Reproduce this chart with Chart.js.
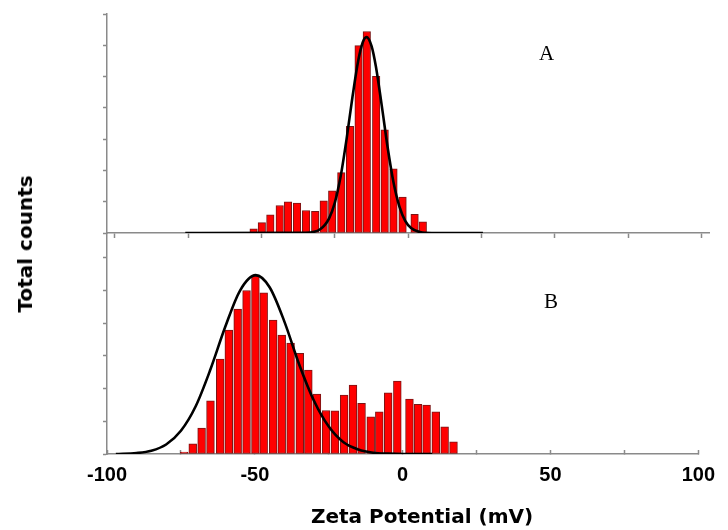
<!DOCTYPE html>
<html>
<head>
<meta charset="utf-8">
<script src="https://cdn.jsdelivr.net/npm/chart.js@4"></script>
<style>
  body{margin:0;background:#fff;}
  #wrap{position:relative;width:728px;height:530px;overflow:hidden;}
  canvas{position:absolute;left:0;}
  .lbl{position:absolute;font-family:"DejaVu Sans",sans-serif;font-weight:bold;color:#000;white-space:nowrap;}
  .pan{position:absolute;font-family:"Liberation Serif",serif;font-size:21px;color:#000;}
</style>
</head>
<body>
<div id="wrap">
  <canvas id="chartA" width="728" height="250" style="top:0"></canvas>
  <canvas id="chartB" width="728" height="310" style="top:220px"></canvas>
  <div class="pan" style="left:539px;top:41px">A</div>
  <div class="pan" style="left:544px;top:289px">B</div>
  <div class="lbl" style="font-size:20px;left:25px;top:244px;transform:translate(-50%,-50%) rotate(-90deg)">Total counts</div>
  <div class="lbl" style="font-size:20px;left:422px;top:516px;transform:translate(-50%,-50%)">Zeta Potential (mV)</div>
</div>
<script>
// panel A : histogram + fit
var zetaA=[-52.7,-49.9,-47.0,-43.8,-41.0,-37.9,-34.8,-31.7,-28.8,-25.9,-22.8,-19.8,-16.9,-14.1,-10.9,-8.0,-5.0,-1.9,2.2,5.0]
var countsA=[1.3,3.3,5.8,8.8,10.0,9.6,7.2,6.9,10.3,13.5,19.3,34.1,59.9,64.4,50.1,33.0,20.5,11.5,6.0,3.6]
var fitXA=[-76,-35,-30,-27,-25,-23,-21,-19,-17,-15.5,-14.2,-12.5,-11,-9,-7,-5,-3,-1,1,4,8,25.5]
var fitYA=[0,0.1,1.2,4.6,9.7,18.2,30.0,43.4,55.2,60.9,62.6,59.8,53.2,40.7,27.4,16.2,8.5,3.9,1.6,0.3,0,0]

// panel B
var zetaB=[-73.9,-71.0,-68.0,-65.0,-61.7,-58.8,-55.8,-52.8,-49.8,-47.0,-43.8,-40.9,-37.9,-34.8,-31.9,-29.0,-25.9,-22.9,-19.8,-16.8,-13.9,-10.8,-7.9,-4.9,-1.8,2.3,5.2,8.1,11.2,14.2,17.2]
var countsB=[0.6,3.1,7.9,16.3,29.0,37.9,44.3,50.0,54.4,49.3,41.0,36.4,33.9,30.8,25.7,18.3,13.3,13.2,18.0,21.1,15.5,11.4,12.9,18.7,22.3,16.8,15.2,15.0,12.9,8.3,3.7]
var fitXB=[-97,-90,-85,-80,-75,-70,-65,-60,-55,-49.7,-45,-40,-35,-30,-25,-20,-15,-10,-5,0,10]
var fitYB=[0,0.3,1.0,2.9,7.1,14.6,25.9,38.9,50.0,54.7,51.0,40.5,27.4,16.3,8.4,3.6,1.4,0.4,0.1,0,0]

var xTicks=[-100,-75,-50,-25,0,25,50,75,100]
var xLabels=[-100,-50,0,50,100]

function pts(xs,ys){
  return xs.map(function(x,i){return {x:x,y:ys[i]}})
}
function setTicks(list){
  return function(s){ s.ticks=list.map(function(v){return {value:v}}) }
}
var axisGray='#8a8a8a'

function makeChart(id,opt){
  return new Chart(document.getElementById(id),{
    type:'bar',
    data:{datasets:[
      {
        type:'line',
        data:pts(opt.fx,opt.fy),
        borderColor:'#000',
        borderWidth:2.6,
        pointRadius:0,
        cubicInterpolationMode:'monotone',
        order:0
      },
      {
        data:pts(opt.bx,opt.by),
        backgroundColor:'#ff0000',
        borderColor:'#7a1515',
        borderWidth:1,
        borderSkipped:false,
        barThickness:opt.bw,
        order:1
      }
    ]},
    options:{
      responsive:false,
      animation:false,
      events:[],
      layout:{padding:opt.pad},
      plugins:{legend:{display:false},tooltip:{enabled:false}},
      scales:{
        x:{
          type:'linear',
          min:opt.xmin,max:opt.xmax,
          offset:false,
          afterBuildTicks:setTicks(xTicks),
          afterFit:function(s){s.height=opt.xh},
          border:{color:axisGray,width:1.5},
          grid:{offset:false,drawOnChartArea:false,color:axisGray,tickLength:opt.tl,tickWidth:1.5},
          ticks:{
            display:opt.xlab,
            autoSkip:false,
            maxRotation:0,
            padding:13,
            color:'#000',
            font:{family:'Liberation Sans',weight:'bold',size:20},
            callback:function(v){return xLabels.indexOf(v)>=0?String(v):''}
          }
        },
        y:{
          min:0,max:opt.ymax,
          afterBuildTicks:setTicks(opt.yt),
          afterFit:function(s){s.width=107},
          border:{color:axisGray,width:1.5},
          grid:{offset:false,drawOnChartArea:false,color:axisGray,tickLength:4,tickWidth:1.5},
          ticks:{display:false}
        }
      }
    }
  })
}

makeChart('chartA',{
  bx:zetaA,by:countsA,fx:fitXA,fy:fitYA,bw:7.5,
  xmin:-102.7,xmax:102.6,ymax:70,
  yt:[0,10,20,30,40,50,60,70],
  pad:{top:14,right:19,left:0,bottom:0},
  xh:17,tl:5,xlab:false
})
makeChart('chartB',{
  bx:zetaB,by:countsB,fx:fitXB,fy:fitYB,bw:7.8,
  xmin:-100,xmax:100,ymax:67.6,
  yt:[0,10,20,30,40,50,60],
  pad:{top:13,right:20,left:0,bottom:0},
  xh:76,tl:-4,xlab:true
})
</script>
</body>
</html>
